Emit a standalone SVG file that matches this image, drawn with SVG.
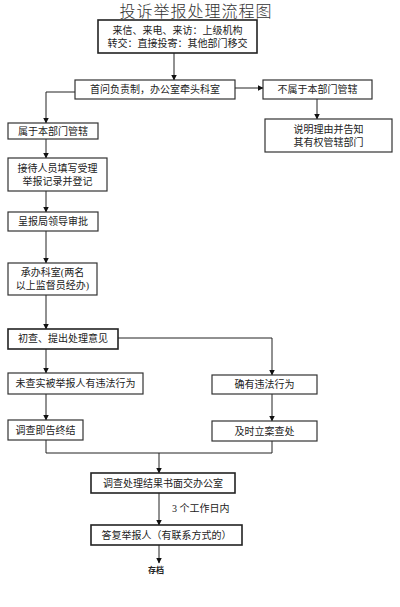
<svg xmlns="http://www.w3.org/2000/svg" width="400" height="607" viewBox="0 0 400 607">
<defs>
<marker id="ah" markerWidth="6" markerHeight="6" refX="5.5" refY="3" orient="auto" markerUnits="userSpaceOnUse">
<path d="M0,0 L6,3 L0,6 Z" fill="#111"/>
</marker>
<style>
.b{fill:#fff;stroke:#333;stroke-width:1.2}
.bb{fill:#fff;stroke:#222;stroke-width:1.6}
.t{font-family:"Liberation Serif","Noto Sans CJK SC",serif;font-size:10px;fill:#222;text-anchor:middle}
.c{fill:none;stroke:#222;stroke-width:1}
</style>
</defs>
<rect width="400" height="607" fill="#fff"/>
<text x="196" y="17" style="font-family:'Noto Sans CJK SC',sans-serif;font-size:16px;font-weight:300;fill:#333;text-anchor:middle;letter-spacing:1px">投诉举报处理流程图</text>
<g id="connectors">
<path class="c" d="M174,53 V80" marker-end="url(#ah)"/>
<path class="c" d="M235,88 H263" marker-end="url(#ah)"/>
<path class="c" d="M317,99 V119" marker-end="url(#ah)"/>
<path class="c" d="M75,92 H46 V123" marker-end="url(#ah)"/>
<path class="c" d="M46,139 V158" marker-end="url(#ah)"/>
<path class="c" d="M46,191 V212" marker-end="url(#ah)"/>
<path class="c" d="M46,231 V263" marker-end="url(#ah)"/>
<path class="c" d="M46,295 V329" marker-end="url(#ah)"/>
<path class="c" d="M46,349 V373" marker-end="url(#ah)"/>
<path class="c" d="M118,338 H272 V375" marker-end="url(#ah)"/>
<path class="c" d="M46,394 V420" marker-end="url(#ah)"/>
<path class="c" d="M272,394 V421" marker-end="url(#ah)"/>
<path class="c" d="M46,440 V453 H272 V441"/>
<path class="c" d="M159,453 V473" marker-end="url(#ah)"/>
<path class="c" d="M159,493 V525" marker-end="url(#ah)"/>
<path class="c" d="M159,545 V563" marker-end="url(#ah)"/>
<text class="t" x="172" y="512" style="text-anchor:start">3 个工作日内</text>
</g>
<g id="n1"><rect class="bb" x="98" y="20" width="159" height="33"/>
<text class="t" x="177.5" y="34">来信、来电、来访：上级机构</text>
<text class="t" x="177.5" y="47">转交：直接投寄：其他部门移交</text></g>
<g id="n2"><rect class="b" x="75" y="80" width="160" height="19"/><text class="t" x="155" y="93">首问负责制，办公室牵头科室</text></g>
<g id="n3"><rect class="b" x="263" y="80" width="109" height="19"/><text class="t" x="317.5" y="93">不属于本部门管辖</text></g>
<g id="n4"><rect class="b" x="265" y="119" width="127" height="33"/>
<text class="t" x="328.5" y="133">说明理由并告知</text>
<text class="t" x="328.5" y="146">其有权管辖部门</text></g>
<g id="n5"><rect class="b" x="8" y="123" width="90" height="16"/><text class="t" x="53" y="135">属于本部门管辖</text></g>
<g id="n6"><rect class="b" x="8" y="158" width="99" height="33"/>
<text class="t" x="57.5" y="172">接待人员填写受理</text>
<text class="t" x="57.5" y="185">举报记录并登记</text></g>
<g id="n7"><rect class="b" x="8" y="212" width="90" height="19"/><text class="t" x="53" y="225">呈报局领导审批</text></g>
<g id="n8"><rect class="b" x="8" y="263" width="89" height="32"/>
<text class="t" x="52.5" y="276">承办科室(两名</text>
<text class="t" x="52.5" y="289">以上监督员经办)</text></g>
<g id="n9"><rect class="bb" x="8" y="329" width="110" height="20"/><text class="t" x="63" y="342">初查、提出处理意见</text></g>
<g id="n10"><rect class="b" x="8" y="373" width="135" height="21"/><text class="t" x="75.5" y="387">未查实被举报人有违法行为</text></g>
<g id="n11"><rect class="b" x="8" y="420" width="75" height="20"/><text class="t" x="45.5" y="434">调查即告终结</text></g>
<g id="n12"><rect class="b" x="212" y="375" width="105" height="19"/><text class="t" x="264.5" y="388">确有违法行为</text></g>
<g id="n13"><rect class="b" x="212" y="421" width="105" height="20"/><text class="t" x="264.5" y="435">及时立案查处</text></g>
<g id="n14"><rect class="bb" x="91" y="473" width="144" height="20"/><text class="t" x="163" y="487">调查处理结果书面交办公室</text></g>
<g id="n15"><rect class="bb" x="91" y="525" width="151" height="20"/><text class="t" x="166.5" y="539">答复举报人（有联系方式的）</text></g>
<g id="n16"><text class="t" x="156" y="573" style="font-size:8px;font-weight:bold">存档</text></g>
</svg>
